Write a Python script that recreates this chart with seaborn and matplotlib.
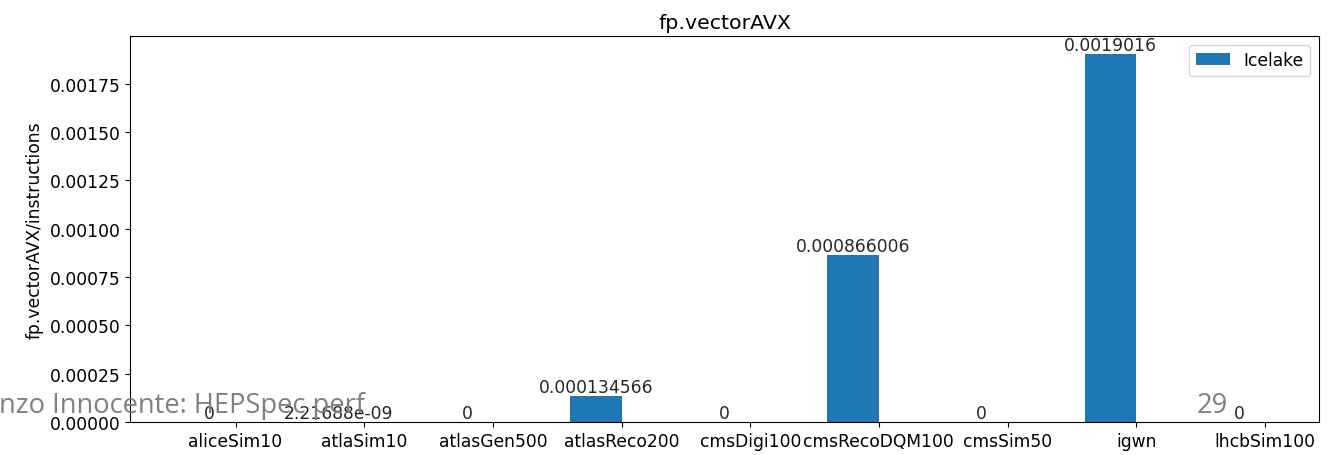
import numpy as np
import pandas as pd
import matplotlib
matplotlib.use("Agg")
import matplotlib.pyplot as plt
import seaborn as sns

# Per-workload fraction of AVX vector FP instructions
workloads = ["aliceSim10", "atlaSim10", "atlasGen500", "atlasReco200", "cmsDigi100",
             "cmsRecoDQM100", "cmsSim50", "igwn", "lhcbSim100"]
icelake = [0.0, 2.21688e-09, 0.0, 0.000134566, 0.0, 0.000866006, 0.0, 0.0019016, 0.0]
machine = "Icelake"
metric = "fp.vectorAVX"

base = 12.3
plt.rcParams.update({
    "font.family": ["DejaVu Sans"],
    "font.size": base,
    "axes.titlesize": base * 1.2,
    "axes.labelsize": base,
    "xtick.labelsize": base,
    "ytick.labelsize": base,
    "legend.fontsize": base,
})

pos = np.arange(len(workloads))
bar_w = 0.4
df = pd.DataFrame({"pos": pos - bar_w / 2, "value": icelake, "machine": machine})

fig = plt.figure(figsize=(13.39, 4.56), dpi=100)
ax = fig.add_axes([0.0971, 0.0724, 0.8879, 0.8465])

sns.barplot(data=df, x="pos", y="value", hue="machine", native_scale=True,
            width=bar_w, palette=["#1f77b4"], saturation=1, errorbar=None,
            linewidth=0, ax=ax)

for cont in ax.containers:
    ax.bar_label(cont, fmt="%g", fontsize=base, color="#262626")

ax.set_xticks(pos)
ax.set_xticklabels(workloads)
ax.set_xlabel("")
ax.set_ylabel(metric + "/instructions")
ax.set_title(metric)
ax.set_ylim(0, max(icelake) * 1.05)
span = len(workloads) - 1 + bar_w
ax.set_xlim(pos[0] - bar_w - 0.05 * span, pos[-1] + 0.05 * span)
ax.yaxis.set_major_formatter(matplotlib.ticker.FormatStrFormatter("%.5f"))

handles, labels = ax.get_legend_handles_labels()
ax.legend(handles, labels, loc="upper right")

# slide footer
fig.text(-0.001, 0.094, "nzo Innocente: HEPSpec perf", fontsize=19.6,
         family=["Open Sans", "DejaVu Sans"], color="#808080", ha="left", va="baseline")
fig.text(0.894, 0.094, "29", fontsize=19.6,
         family=["Open Sans", "DejaVu Sans"], color="#808080", ha="left", va="baseline")

fig.savefig("out.png", dpi=100)
